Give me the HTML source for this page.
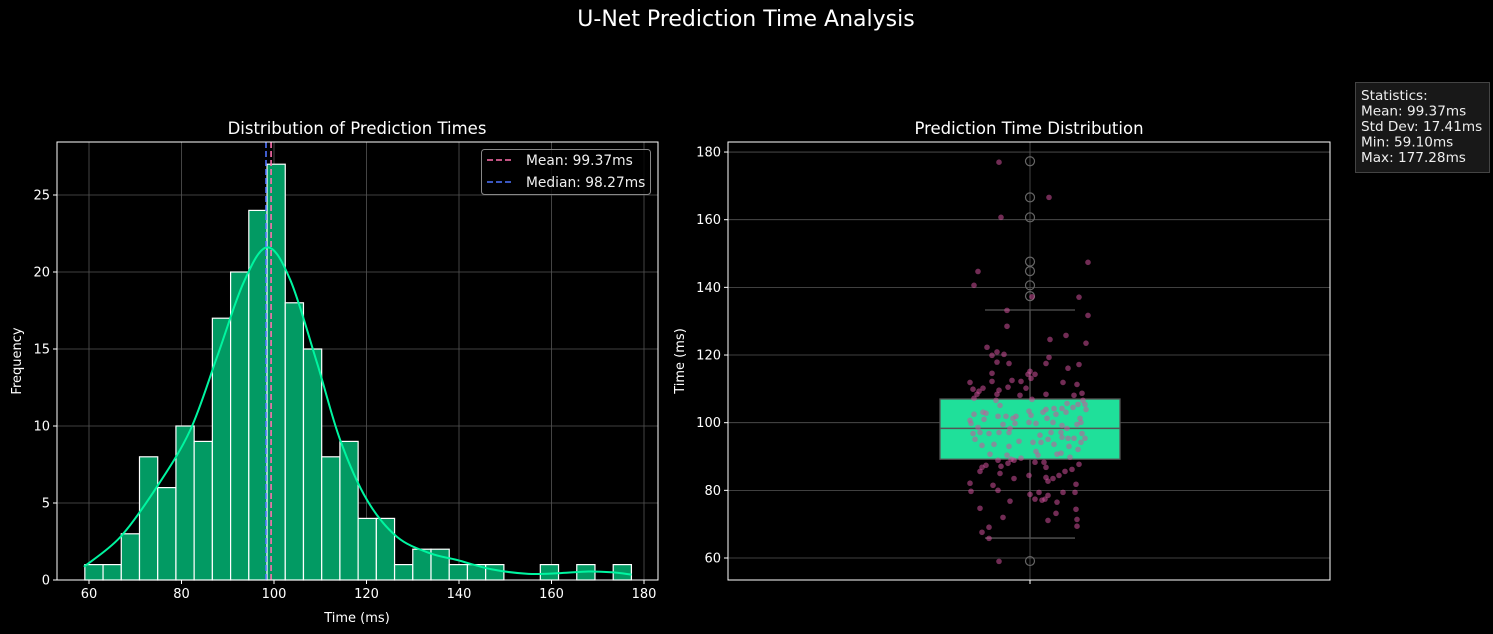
<!DOCTYPE html>
<html><head><meta charset="utf-8"><style>
html,body{margin:0;padding:0;background:#000;}
svg{display:block;font-family:"DejaVu Sans","Liberation Sans",sans-serif;}
</style></head><body>
<svg id="chart" width="1493" height="634" viewBox="0 0 1493 634" xmlns="http://www.w3.org/2000/svg">
<rect x="0" y="0" width="1493" height="634" fill="#000"/>
<text x="746" y="26" text-anchor="middle" font-size="22" fill="#fff">U-Net Prediction Time Analysis</text>
<g id="left"></g>
<g id="right"></g>
<g>
<rect x="1355.5" y="82.5" width="134" height="90" fill="#181818" stroke="#444"/>
<text font-size="13.6" fill="#eee">
<tspan x="1361" y="100">Statistics:</tspan>
<tspan x="1361" y="115.5">Mean: 99.37ms</tspan>
<tspan x="1361" y="131">Std Dev: 17.41ms</tspan>
<tspan x="1361" y="146.5">Min: 59.10ms</tspan>
<tspan x="1361" y="162">Max: 177.28ms</tspan>
</text>
</g>
</svg>
<script>
const binStart = 59.10, binEnd = 177.28;
const counts = [1,1,3,8,6,10,9,17,20,24,27,18,15,8,9,4,4,1,2,2,1,1,1,0,0,1,0,1,0,1];
const kdeX = [58.9,66.8,74.7,81.9,87.7,93.4,98.5,103.5,109.3,114.3,120.1,126.6,133.8,139.6,147,155,162,168,173,177.3];
const kdeY = [0.86,2.8,6.06,9.74,14.5,19.3,21.6,19.5,14.1,9.1,5.2,2.8,1.73,1.3,0.7,0.4,0.45,0.55,0.5,0.35];
const meanVal = 99.37, medianVal = 98.27;
const xTicks = [60,80,100,120,140,160,180];
const yTicks = [0,5,10,15,20,25];
const boxStats = {q1:89.2, med:98.3, q3:107.0, lo:65.9, hi:133.3};
const outliers = [59.1,137.4,140.6,144.8,147.6,160.7,166.6,177.28];
const pts = [177.0,166.6,160.7,147.4,144.7,140.6,137.1,137.2,131.7,133.2,128.5,125.8,124.6,123.5,122.3,120.9,119.9,120.2,119.3,117.9,117.5,117.5,117.2,116.1,114.6,115.2,114.3,114.3,113.1,112.2,111.9,112.5,112.2,111.9,111.3,110.5,110.2,109.9,110.2,109.3,109.6,108.4,108.4,108.1,108.4,108.7,108.1,107.2,106.6,106.9,106.6,105.7,105.4,105.4,105.1,104.5,103.9,104.2,104.2,103.9,103.1,102.8,102.5,101.9,101.9,101.9,103.4,102.2,103.1,102.5,103.1,101.3,100.7,101.0,101.3,101.3,99.8,99.5,99.8,100.1,99.8,100.1,99.5,100.1,98.6,98.3,99.2,98.3,96.8,97.1,96.8,97.1,97.1,97.1,97.1,96.8,95.1,96.3,95.1,95.7,95.4,95.4,95.4,94.5,94.2,94.2,94.2,93.3,93.6,93.0,93.6,93.0,91.5,92.1,90.7,90.4,89.5,90.4,90.7,91.0,89.8,89.2,88.9,88.9,88.0,88.3,88.3,87.7,87.4,86.8,87.1,86.8,85.6,85.0,85.6,86.2,84.4,84.4,83.8,83.5,83.5,82.7,82.1,81.5,81.8,79.7,80.0,79.4,78.8,79.4,79.4,78.5,77.4,77.1,77.4,76.8,76.5,74.7,74.4,73.2,72.0,71.1,71.4,69.4,69.1,67.6,65.8,59.0];
const jitter = [-31,19,-29,58,-52,-56,49,2,58,-23,-23,36,20,56,-43,-33,-38,-26,19,-33,-21,16,49,38,-38,0,-2,5,1,-38,-60,-18,-9,33,47,-22,-4,-57,-47,-51,-31,-53,-33,-10,16,52,44,-56,-34,2,53,37,48,55,-30,43,56,24,32,16,-47,-44,-56,-32,-24,-14,-1,1,13,26,36,50,-60,-46,-17,17,-59,-27,-15,-1,6,23,47,51,-52,-20,32,37,-57,-50,-41,-31,-21,21,31,52,-55,10,18,32,38,44,55,-11,3,11,51,-48,-36,-21,24,39,6,48,-40,-23,-9,8,27,31,40,-19,-16,-32,-22,5,14,49,-44,-48,-29,16,-50,-30,35,42,29,-1,16,23,-16,18,-60,-37,46,-59,-32,9,0,33,45,18,5,12,15,-20,27,-50,46,26,-27,18,47,47,-41,-48,-41,-31];
const rTicks = [60,80,100,120,140,160,180];

const NS = "http://www.w3.org/2000/svg";
function mk(parent, tag, attrs, text){
  const e = document.createElementNS(NS, tag);
  for (const k in attrs) e.setAttribute(k, attrs[k]);
  if (text !== undefined) e.textContent = text;
  parent.appendChild(e);
  return e;
}
// ---------- left histogram ----------
const L = document.getElementById('left');
const LA = {x0:57, x1:658, y0:142, y1:580};
const lx = v => 89 + (v - 60) * 4.625;
const ly = v => 580 - v * 15.4;
mk(L,'rect',{x:LA.x0,y:LA.y0,width:LA.x1-LA.x0,height:LA.y1-LA.y0,fill:'#000'});
xTicks.forEach(t=>{
  const g = mk(L,'g',{});
  
  
  mk(g,'line',{x1:lx(t),x2:lx(t),y1:LA.y0,y2:LA.y1,stroke:'#555','stroke-width':0.8});
  mk(g,'line',{x1:lx(t),x2:lx(t),y1:LA.y1,y2:LA.y1+4,stroke:'#fff'});
  mk(g,'text',{x:lx(t),y:LA.y1+18,'text-anchor':'middle','font-size':13,fill:'#fff'},String(t));
});
yTicks.forEach(t=>{
  const g = mk(L,'g',{});
  
  
  mk(g,'line',{x1:LA.x0,x2:LA.x1,y1:ly(t),y2:ly(t),stroke:'#555','stroke-width':0.8});
  mk(g,'line',{x1:LA.x0-4,x2:LA.x0,y1:ly(t),y2:ly(t),stroke:'#fff'});
  mk(g,'text',{x:LA.x0-7,y:ly(t)+4.5,'text-anchor':'end','font-size':13,fill:'#fff'},String(t));
});
const bw = (binEnd - binStart) / counts.length;
counts.forEach((c,i)=>{
  if (c <= 0) return;
  const a = binStart + i*bw, b = a + bw;
  const r = mk(L,'rect',{x:lx(a),y:ly(c),width:lx(b)-lx(a),height:ly(0)-ly(c),fill:'#029a63',stroke:'#fff','stroke-width':1.2});
  
  
});
let d = '';
const P = kdeX.map((x,i)=>[lx(x),ly(kdeY[i])]);
P.forEach((p,i)=>{
  if (i===0){ d += 'M'+p[0]+','+p[1]; return; }
  const p0 = P[i-2]||P[i-1], p1 = P[i-1], p3 = P[i+1]||p;
  const c1 = [p1[0]+(p[0]-p0[0])/6, p1[1]+(p[1]-p0[1])/6];
  const c2 = [p[0]-(p3[0]-p1[0])/6, p[1]-(p3[1]-p1[1])/6];
  d += ' C'+c1+' '+c2+' '+p;
});
const kde = mk(L,'path',{d:d,fill:'none',stroke:'#00f5a0','stroke-width':2});


const ml = mk(L,'line',{x1:lx(meanVal),x2:lx(meanVal),y1:LA.y0,y2:LA.y1,stroke:'#ff6fae','stroke-width':1.6,'stroke-dasharray':'6,3'});


const mdl = mk(L,'line',{x1:lx(medianVal),x2:lx(medianVal),y1:LA.y0,y2:LA.y1,stroke:'#4f74ff','stroke-width':1.6,'stroke-dasharray':'6,3'});


mk(L,'rect',{x:LA.x0,y:LA.y0,width:LA.x1-LA.x0,height:LA.y1-LA.y0,fill:'none',stroke:'#fff','stroke-width':1});
const lg = mk(L,'g',{});


mk(lg,'rect',{x:481.5,y:149.5,width:169,height:45,rx:3,fill:'#000',stroke:'#888','fill-opacity':0.8});
mk(lg,'line',{x1:487,x2:514,y1:160,y2:160,stroke:'#ff6fae','stroke-width':1.6,'stroke-dasharray':'6,3'});
mk(lg,'text',{x:526,y:165,'font-size':13.8,fill:'#eee'},'Mean: 99.37ms');
mk(lg,'line',{x1:487,x2:514,y1:182,y2:182,stroke:'#4f74ff','stroke-width':1.6,'stroke-dasharray':'6,3'});
mk(lg,'text',{x:526,y:187,'font-size':13.8,fill:'#eee'},'Median: 98.27ms');
mk(L,'text',{x:357,y:134,'text-anchor':'middle','font-size':16.5,fill:'#fff',},'Distribution of Prediction Times');
mk(L,'text',{x:357,y:622,'text-anchor':'middle','font-size':13,fill:'#fff',},'Time (ms)');
mk(L,'text',{x:21,y:361,'text-anchor':'middle','font-size':13,fill:'#fff',transform:'rotate(-90 21 361)',},'Frequency');

// ---------- right boxplot ----------
const R = document.getElementById('right');
const RA = {x0:728, x1:1330, y0:142, y1:580};
const ry = v => 558 - (v - 60) * 3.383;
const cx = 1030;
rTicks.forEach(t=>{
  const g = mk(R,'g',{});
  
  
  mk(g,'line',{x1:RA.x0,x2:RA.x1,y1:ry(t),y2:ry(t),stroke:'#555','stroke-width':0.8});
  mk(g,'line',{x1:RA.x0-4,x2:RA.x0,y1:ry(t),y2:ry(t),stroke:'#fff'});
  mk(g,'text',{x:RA.x0-7,y:ry(t)+4.5,'text-anchor':'end','font-size':13,fill:'#fff'},String(t));
});
mk(R,'line',{x1:cx,x2:cx,y1:RA.y0,y2:RA.y1,stroke:'#555','stroke-width':0.8});
mk(R,'line',{x1:cx,x2:cx,y1:RA.y1,y2:RA.y1+4,stroke:'#fff'});
const bg = mk(R,'g',{});


mk(bg,'line',{x1:cx,x2:cx,y1:ry(boxStats.hi),y2:ry(boxStats.q3),stroke:'#555','stroke-width':1.3});
mk(bg,'line',{x1:cx,x2:cx,y1:ry(boxStats.q1),y2:ry(boxStats.lo),stroke:'#555','stroke-width':1.3});
mk(bg,'line',{x1:985,x2:1075,y1:ry(boxStats.hi),y2:ry(boxStats.hi),stroke:'#555','stroke-width':1.3});
mk(bg,'line',{x1:985,x2:1075,y1:ry(boxStats.lo),y2:ry(boxStats.lo),stroke:'#555','stroke-width':1.3});
mk(bg,'rect',{x:940,y:ry(boxStats.q3),width:180,height:ry(boxStats.q1)-ry(boxStats.q3),fill:'#1fe09a',stroke:'#555','stroke-width':1.3});
mk(bg,'line',{x1:940,x2:1120,y1:ry(boxStats.med),y2:ry(boxStats.med),stroke:'#555','stroke-width':1.5});
outliers.forEach((o,i)=>{
  const c = mk(R,'circle',{cx:cx,cy:ry(o),r:4.5,fill:'none',stroke:'#666','stroke-width':1.2});
  
  
});
pts.forEach((v,i)=>{
  const c = mk(R,'circle',{cx:cx+jitter[i],cy:ry(v),r:2.8,fill:'#d0509a','fill-opacity':0.55});
  
  
});
mk(R,'rect',{x:RA.x0,y:RA.y0,width:RA.x1-RA.x0,height:RA.y1-RA.y0,fill:'none',stroke:'#fff','stroke-width':1});
mk(R,'text',{x:1029,y:134,'text-anchor':'middle','font-size':16.5,fill:'#fff',},'Prediction Time Distribution');
mk(R,'text',{x:684,y:361,'text-anchor':'middle','font-size':13,fill:'#fff',transform:'rotate(-90 684 361)',},'Time (ms)');
</script>
</body></html>
